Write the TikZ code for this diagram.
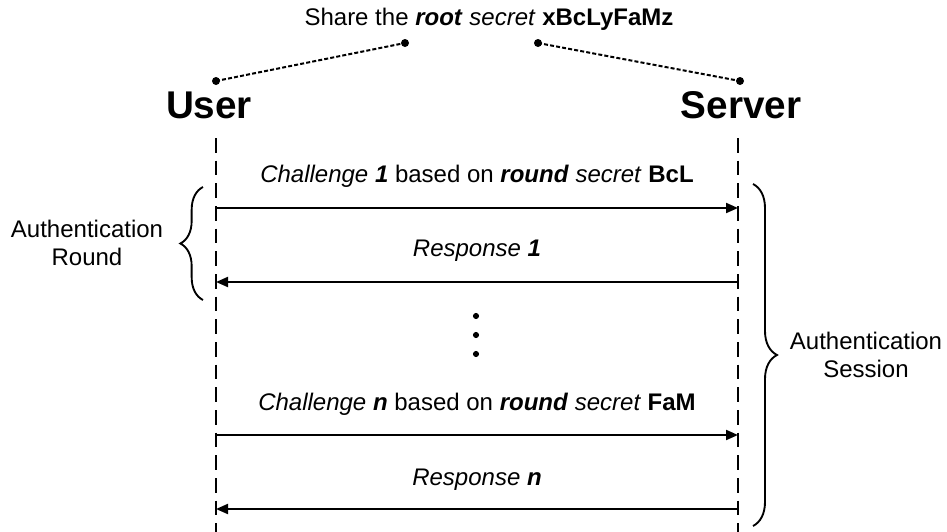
\documentclass[tikz,border=0pt]{standalone}
\usepackage{fontspec}
\setmainfont{Liberation Sans}
\usetikzlibrary{arrows.meta,decorations.pathreplacing}

\begin{document}
\begin{tikzpicture}[x=0.75pt,y=-0.75pt,
  lbl/.style={font=\fontsize{18}{21}\selectfont, inner sep=0pt},
  actor/.style={font=\fontsize{29}{34}\selectfont\bfseries, inner sep=0pt},
  lifeline/.style={line width=1.4pt, dash pattern=on 11pt off 6pt},
  msg/.style={line width=1.5pt, -{Triangle[length=9pt,width=7.5pt]}},
  link/.style={line width=1.5pt, dash pattern=on 3pt off 1.6pt},
  pin/.style={circle, fill=black, inner sep=0pt, minimum size=#1},
  pin/.default=6pt,
  brc/.style={decorate, decoration={brace, amplitude=#1}, line width=1.4pt}]

\useasboundingbox (0,0) rectangle (947,532);

% title and the two parties
\node[lbl] (title) at (489,19) {Share the \textbf{\textit{root}} \textit{secret} \textbf{xBcLyFaMz}};
\node[actor] (user) at (209,105) {User};
\node[actor] (server) at (741,105) {Server};

% dotted links from the shared secret to both parties
\node[pin] (p1) at (405,43) {};
\node[pin] (p2) at (538,43) {};
\node[pin] (p3) at (216,81) {};
\node[pin] (p4) at (740,81) {};
\draw[link] (p3.center) -- (p1.center);
\draw[link] (p2.center) -- (p4.center);

% lifelines
\coordinate (uTop) at (216,138);
\coordinate (uBot) at (216,532);
\coordinate (sTop) at (738,138);
\coordinate (sBot) at (738,532);
\draw[lifeline] (uTop) -- (uBot);
\draw[lifeline] (sTop) -- (sBot);

% message end points
\coordinate (c1u) at (216,208);
\coordinate (c1s) at (738,208);
\coordinate (r1u) at (216,282);
\coordinate (r1s) at (738,282);
\coordinate (cnu) at (216,435);
\coordinate (cns) at (738,435);
\coordinate (rnu) at (216,509);
\coordinate (rns) at (738,509);

\draw[msg] (c1u) -- (c1s);
\draw[msg] (r1s) -- (r1u);
\draw[msg] (cnu) -- (cns);
\draw[msg] (rns) -- (rnu);

\node[lbl] (c1lbl) at (477,176) {\textit{Challenge \textbf{1}} based on \textbf{\textit{round}} \textit{secret} \textbf{BcL}};
\node[lbl] (r1lbl) at (477,251) {\textit{Response \textbf{1}}};
\node[lbl] (cnlbl) at (477,404) {\textit{Challenge \textbf{n}} based on \textbf{\textit{round}} \textit{secret} \textbf{FaM}};
\node[lbl] (rnlbl) at (477,480) {\textit{Response \textbf{n}}};

% vertical ellipsis
\node[pin=4.6pt] (d1) at (476,316) {};
\node[pin=4.6pt] (d2) at (476,335) {};
\node[pin=4.6pt] (d3) at (476,354) {};

% braces
\coordinate (rbBot) at (203,300);
\coordinate (rbTop) at (203,187);
\draw[brc=17pt] (rbBot) -- (rbTop);
\coordinate (sbTop) at (753,184);
\coordinate (sbBot) at (753,526);
\draw[brc=18pt] (sbTop) -- (sbBot);

\node[lbl, align=center] (round) at (87,243) {Authentication\\Round};
\node[lbl, align=center] (session) at (866,355) {Authentication\\Session};
\end{tikzpicture}
\end{document}
